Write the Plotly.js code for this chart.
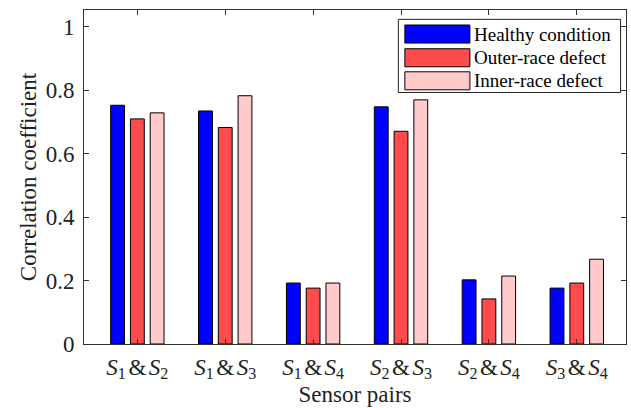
<!DOCTYPE html>
<html>
<head>
<meta charset="utf-8">
<script src="https://cdn.plot.ly/plotly-3.0.1.min.js"></script>
<style>html,body{margin:0;padding:0;background:#fff;}#chart{width:631px;height:408px;}</style>
</head>
<body>
<div id="chart"></div>
<script>
var positions = [1, 2, 3, 4, 5, 6];
var gap = "<span style=\"font-size:10px\"> </span>";
var tickLabels = [
  "<i>S</i><sub>1</sub>" + gap + "&amp;" + gap + "<i>S</i><sub>2</sub>",
  "<i>S</i><sub>1</sub>" + gap + "&amp;" + gap + "<i>S</i><sub>3</sub>",
  "<i>S</i><sub>1</sub>" + gap + "&amp;" + gap + "<i>S</i><sub>4</sub>",
  "<i>S</i><sub>2</sub>" + gap + "&amp;" + gap + "<i>S</i><sub>3</sub>",
  "<i>S</i><sub>2</sub>" + gap + "&amp;" + gap + "<i>S</i><sub>4</sub>",
  "<i>S</i><sub>3</sub>" + gap + "&amp;" + gap + "<i>S</i><sub>4</sub>"
];
var seriesNames = ["Healthy condition", "Outer-race defect", "Inner-race defect"];
var healthy = [0.752, 0.734, 0.192, 0.747, 0.202, 0.176];
var outerRace = [0.709, 0.682, 0.176, 0.670, 0.142, 0.192];
var innerRace = [0.728, 0.782, 0.192, 0.769, 0.214, 0.267];
var colors = ["#0000FF", "#FF4B4B", "#FFCACA"];

var seriesValues = [healthy, outerRace, innerRace];
var traces = seriesValues.map(function (vals, i) {
  return {
    type: "bar",
    x: positions,
    y: vals,
    name: seriesNames[i],
    marker: {color: colors[i], line: {color: "#000", width: 1}},
    showlegend: false,
    hoverinfo: "y"
  };
});

var font = "Liberation Serif";
var shapes = [{
  type: "rect", xref: "paper", yref: "paper",
  x0: 0.580, x1: 0.990, y0: 0.753, y1: 0.972,
  line: {color: "#222", width: 1}, fillcolor: "#fff", layer: "above"
}];
var annotations = [];
var rowTop = [0.955, 0.884, 0.815];
for (var i = 0; i < 3; i++) {
  shapes.push({
    type: "rect", xref: "paper", yref: "paper",
    x0: 0.592, x1: 0.712, y0: rowTop[i] - 0.054, y1: rowTop[i],
    line: {color: "#000", width: 1}, fillcolor: colors[i], layer: "above"
  });
  annotations.push({
    xref: "paper", yref: "paper", x: 0.716, y: rowTop[i] - 0.027,
    xanchor: "left", yanchor: "middle", showarrow: false,
    text: seriesNames[i], font: {family: font, size: 19, color: "#000"}
  });
}

var layout = {
  width: 631, height: 408,
  margin: {l: 84, r: 5, t: 10, b: 64},
  paper_bgcolor: "#fff", plot_bgcolor: "#fff",
  font: {family: font, size: 23, color: "#222"},
  barmode: "group",
  bargap: 0.325,
  bargroupgap: 0.3,
  showlegend: false,
  xaxis: {
    range: [0.393, 6.56],
    tickvals: positions,
    ticktext: tickLabels,
    ticks: "inside", ticklen: 5, tickcolor: "#333",
    showline: true, linecolor: "#333", linewidth: 1, mirror: "ticks",
    showgrid: false, zeroline: false,
    ticklabelstandoff: 2,
    tickfont: {family: font, size: 23, color: "#222"},
    title: {text: "Sensor pairs", font: {family: font, size: 23, color: "#222"}, standoff: 3}
  },
  yaxis: {
    range: [0, 1.052],
    tickvals: [0, 0.2, 0.4, 0.6, 0.8, 1],
    ticktext: ["0", "0.2", "0.4", "0.6", "0.8", "1"],
    ticks: "inside", ticklen: 5, tickcolor: "#333",
    showline: true, linecolor: "#333", linewidth: 1, mirror: "ticks",
    showgrid: false, zeroline: false,
    ticklabelstandoff: 4,
    tickfont: {family: font, size: 23, color: "#222"},
    title: {text: "Correlation coefficient", font: {family: font, size: 23, color: "#222"}, standoff: 2}
  },
  shapes: shapes,
  annotations: annotations
};

Plotly.newPlot("chart", traces, layout, {displayModeBar: false, staticPlot: true});
</script>
</body>
</html>
